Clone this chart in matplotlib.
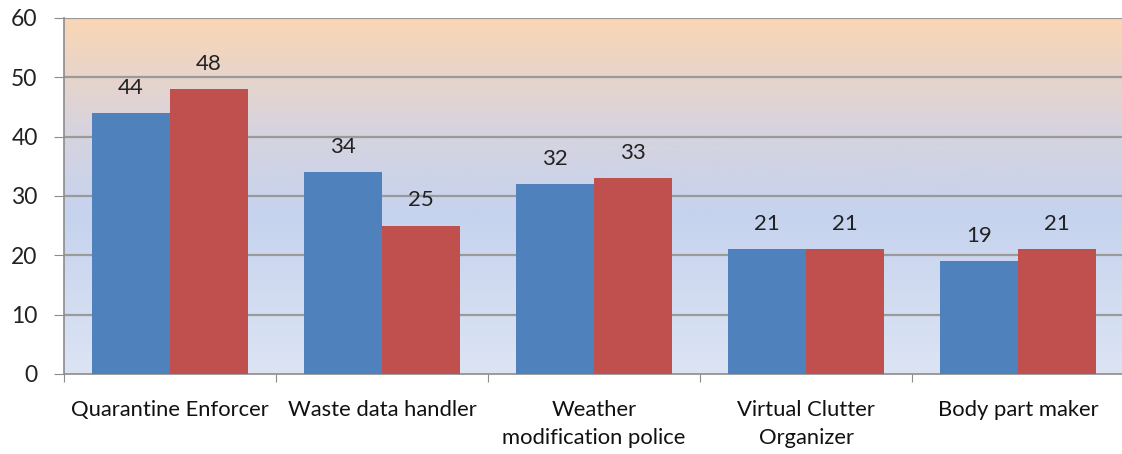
import numpy as np
import matplotlib
matplotlib.use("Agg")
import matplotlib.pyplot as plt
from matplotlib.colors import LinearSegmentedColormap

categories = ["Quarantine Enforcer", "Waste data handler", "Weather\nmodification police",
              "Virtual Clutter\nOrganizer", "Body part maker"]
series_a = [44, 34, 32, 21, 19]
series_b = [48, 25, 33, 21, 21]
yticks = [0, 10, 20, 30, 40, 50, 60]

W, H = 1122, 454
fig = plt.figure(figsize=(W / 100, H / 100), dpi=100)
plt.rcParams['font.family'] = ['Lato', 'DejaVu Sans']

left, right, top, bottom = 64, 1124, 18, 374
ax = fig.add_axes([left / W, (H - bottom) / H, (right - left) / W, (bottom - top) / H])

# gradient background
cmap = LinearSegmentedColormap.from_list("bg", [
    (0.0, (220/255, 228/255, 244/255)),
    (0.45, (198/255, 211/255, 238/255)),
    (0.70, (216/255, 211/255, 221/255)),
    (1.0, (250/255, 214/255, 180/255)),
])
grad = np.linspace(0, 1, 256).reshape(-1, 1)
ax.imshow(grad, cmap=cmap, aspect="auto", extent=[-0.5, 4.5, 0, 60], origin="lower", zorder=0)

x = np.arange(len(categories))
bw = 78 / 212
ax.bar(x - bw / 2, series_a, width=bw, color="#4F81BD", zorder=3)
ax.bar(x + bw / 2, series_b, width=bw, color="#C0504D", zorder=3)

for xs, vals in ((x - bw / 2, series_a), (x + bw / 2, series_b)):
    for xi, v in zip(xs, vals):
        ax.annotate(str(v), (xi, v), xytext=(0, 11), textcoords="offset points",
                    ha="center", va="bottom", fontsize=16, color="#222222", zorder=4)

ax.set_xlim(-0.5, 4.5)
ax.set_ylim(0, 60)
ax.set_yticks(yticks)
ax.set_yticklabels([str(t) for t in yticks], fontsize=16.5, color="#222222")
for t in yticks[1:]:
    ax.axhline(t, color="#9a9a9a", lw=1.6, zorder=1)

# x ticks at category boundaries, labels at centres
ax.set_xticks(np.arange(-0.5, 5, 1))
ax.set_xticklabels([])
ax.set_xticks(x, minor=True)
ax.set_xticklabels(categories, minor=True, fontsize=15.8, color="#111111", linespacing=1.45)
ax.tick_params(axis="x", which="minor", length=0, pad=19)
ax.tick_params(axis="x", which="major", length=6, color="#8c8c8c", direction="out")
ax.tick_params(axis="y", length=7, color="#8c8c8c", direction="out", pad=12)

for s in ["top", "right"]:
    ax.spines[s].set_visible(False)
ax.spines["left"].set_color("#8c8c8c")
ax.spines["bottom"].set_color("#8c8c8c")
ax.spines["left"].set_linewidth(1.2)
ax.spines["bottom"].set_linewidth(1.2)

fig.savefig("out.png", dpi=100)
